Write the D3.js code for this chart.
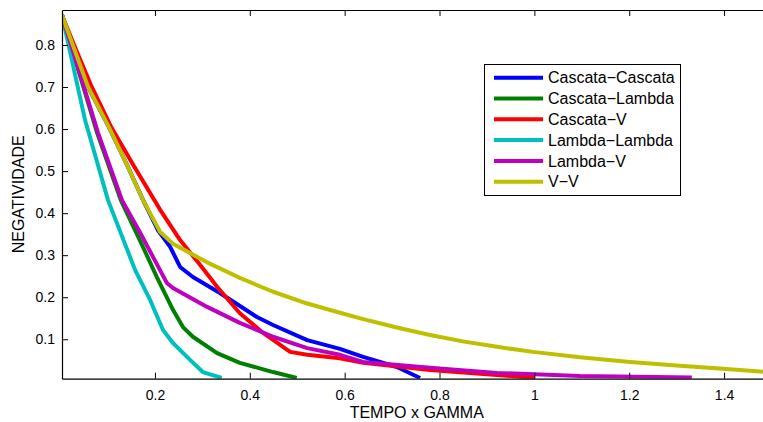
<!DOCTYPE html>
<html>
<head>
<meta charset="utf-8">
<script src="https://cdn.jsdelivr.net/npm/d3@7"></script>
<style>
  body { margin: 0; background: #fff; }
  text { font-family: "Liberation Sans", Arial, sans-serif; fill: #000; }
</style>
</head>
<body>
<div id="chart"></div>
<script>
// values (TEMPO x GAMMA, NEGATIVIDADE)
const tCascataCascata = [0.004, 0.059, 0.105, 0.143, 0.175, 0.206, 0.232, 0.253, 0.280, 0.337, 0.415, 0.449, 0.521, 0.590, 0.639, 0.710, 0.759];
const nCascataCascata = [0.871, 0.700, 0.600, 0.510, 0.431, 0.360, 0.320, 0.272, 0.248, 0.210, 0.153, 0.134, 0.098, 0.077, 0.058, 0.034, 0.008];

const tCascataLambda = [0.004, 0.078, 0.128, 0.168, 0.204, 0.238, 0.259, 0.280, 0.331, 0.379, 0.449, 0.499];
const nCascataLambda = [0.871, 0.591, 0.431, 0.336, 0.248, 0.170, 0.129, 0.106, 0.067, 0.044, 0.022, 0.008];

const tCascataV = [0.004, 0.035, 0.066, 0.108, 0.154, 0.211, 0.253, 0.295, 0.331, 0.379, 0.428, 0.485, 0.521, 0.590, 0.639, 0.780, 0.921, 1.001];
const nCascataV = [0.871, 0.785, 0.702, 0.604, 0.515, 0.408, 0.336, 0.277, 0.225, 0.162, 0.115, 0.070, 0.063, 0.055, 0.044, 0.027, 0.015, 0.008];

const tLambdaLambda = [0.004, 0.0525, 0.101, 0.158, 0.190, 0.217, 0.238, 0.274, 0.301, 0.341];
const nLambdaLambda = [0.871, 0.622, 0.431, 0.265, 0.193, 0.122, 0.091, 0.051, 0.022, 0.008];

const tLambdaV = [0.004, 0.080, 0.1305, 0.168, 0.225, 0.238, 0.310, 0.379, 0.449, 0.521, 0.590, 0.639, 0.780, 0.921, 1.096, 1.332];
const nLambdaV = [0.871, 0.591, 0.431, 0.355, 0.234, 0.222, 0.177, 0.139, 0.106, 0.079, 0.063, 0.046, 0.032, 0.020, 0.0126, 0.009];

const tVV = [0.004, 0.059, 0.105, 0.143, 0.175, 0.211, 0.238, 0.310, 0.379, 0.449, 0.521, 0.590, 0.639, 0.710, 0.780, 0.849, 0.921, 0.997, 1.096, 1.202, 1.306, 1.398, 1.482];
const nVV = [0.871, 0.700, 0.600, 0.510, 0.431, 0.355, 0.327, 0.283, 0.246, 0.213, 0.185, 0.163, 0.148, 0.128, 0.110, 0.095, 0.082, 0.070, 0.057, 0.046, 0.037, 0.030, 0.023];

const seriesNames = ["Cascata\u2212Cascata", "Cascata\u2212Lambda", "Cascata\u2212V", "Lambda\u2212Lambda", "Lambda\u2212V", "V\u2212V"];
const seriesT = [tCascataCascata, tCascataLambda, tCascataV, tLambdaLambda, tLambdaV, tVV];
const seriesN = [nCascataCascata, nCascataLambda, nCascataV, nLambdaLambda, nLambdaV, nVV];

const xTicks = [0.2, 0.4, 0.6, 0.8, 1, 1.2, 1.4];
const yTicks = [0.1, 0.2, 0.3, 0.4, 0.5, 0.6, 0.7, 0.8];

const colors = ["#0000ff", "#008000", "#ff0000", "#00bfbf", "#bf00bf", "#bfbf00"];

// set the dimensions and margins of the graph
const margin = {top: 10, right: 0, bottom: 43.3, left: 62},
      width = 709.5,
      height = 422 - margin.top - margin.bottom;

const svg = d3.select("#chart")
  .append("svg")
    .attr("width", 763)
    .attr("height", 422)
  .append("g")
    .attr("transform", `translate(${margin.left}, ${margin.top})`);

const x = d3.scaleLinear()
  .domain([0.004, 1.5])
  .range([0, width]);

const y = d3.scaleLinear()
  .domain([0.0062, 0.8832])
  .range([height, 0]);

svg.append("defs").append("clipPath")
    .attr("id", "clip")
  .append("rect")
    .attr("width", width)
    .attr("height", height);

// lines
const line = d3.line()
  .x(d => x(d[0]))
  .y(d => y(d[1]));

const data = seriesNames.map((name, i) => ({
  name: name,
  color: colors[i],
  values: seriesT[i].map((t, j) => [t, seriesN[i][j]])
}));

svg.append("g")
    .attr("clip-path", "url(#clip)")
  .selectAll(".line")
  .data(data)
  .join("path")
    .attr("fill", "none")
    .attr("stroke", d => d.color)
    .attr("stroke-width", 4)
    .attr("stroke-linejoin", "round")
    .attr("d", d => line(d.values));

// axes (ticks point inward, box all round)
function styleAxis(g) {
  g.select(".domain").attr("stroke", "#000").attr("stroke-width", 1.2);
  g.selectAll(".tick line").attr("stroke", "#000");
  g.selectAll(".tick text").style("font-size", "14px").attr("fill", "#000");
}

svg.append("g")
    .attr("transform", `translate(0, ${height})`)
    .call(d3.axisBottom(x).tickValues(xTicks).tickFormat(d3.format("")).tickSizeInner(-6).tickSizeOuter(0).tickPadding(11))
    .call(styleAxis);

svg.append("g")
    .call(d3.axisLeft(y).tickValues(yTicks).tickFormat(d3.format("")).tickSizeInner(-6).tickSizeOuter(0).tickPadding(7))
    .call(styleAxis);

svg.append("g")
    .call(d3.axisTop(x).tickValues(xTicks).tickFormat("").tickSizeInner(-6).tickSizeOuter(0))
    .call(styleAxis);

svg.append("g")
    .attr("transform", `translate(${width}, 0)`)
    .call(d3.axisRight(y).tickValues(yTicks).tickFormat("").tickSizeInner(-6).tickSizeOuter(0))
    .call(styleAxis);

// axis labels
svg.append("text")
    .attr("x", width / 2)
    .attr("y", height + 39)
    .attr("text-anchor", "middle")
    .style("font-size", "16px")
    .text("TEMPO x GAMMA");

svg.append("text")
    .attr("transform", `translate(${-38}, ${height / 2}) rotate(-90)`)
    .attr("text-anchor", "middle")
    .style("font-size", "16px")
    .text("NEGATIVIDADE");

// legend
const legend = svg.append("g")
    .attr("transform", `translate(${484 - margin.left}, ${64 - margin.top})`);

legend.append("rect")
    .attr("x", 0.5)
    .attr("y", 0.5)
    .attr("width", 196)
    .attr("height", 131)
    .attr("fill", "#fff")
    .attr("stroke", "#000");

const rows = legend.selectAll(".row")
  .data(data)
  .join("g")
    .attr("transform", (d, i) => `translate(0, ${13.7 + i * 20.8})`);

rows.append("line")
    .attr("x1", 10)
    .attr("x2", 59)
    .attr("stroke", d => d.color)
    .attr("stroke-width", 4);

rows.append("text")
    .attr("x", 64)
    .attr("dy", "0.35em")
    .style("font-size", "16px")
    .text(d => d.name);
</script>
</body>
</html>
